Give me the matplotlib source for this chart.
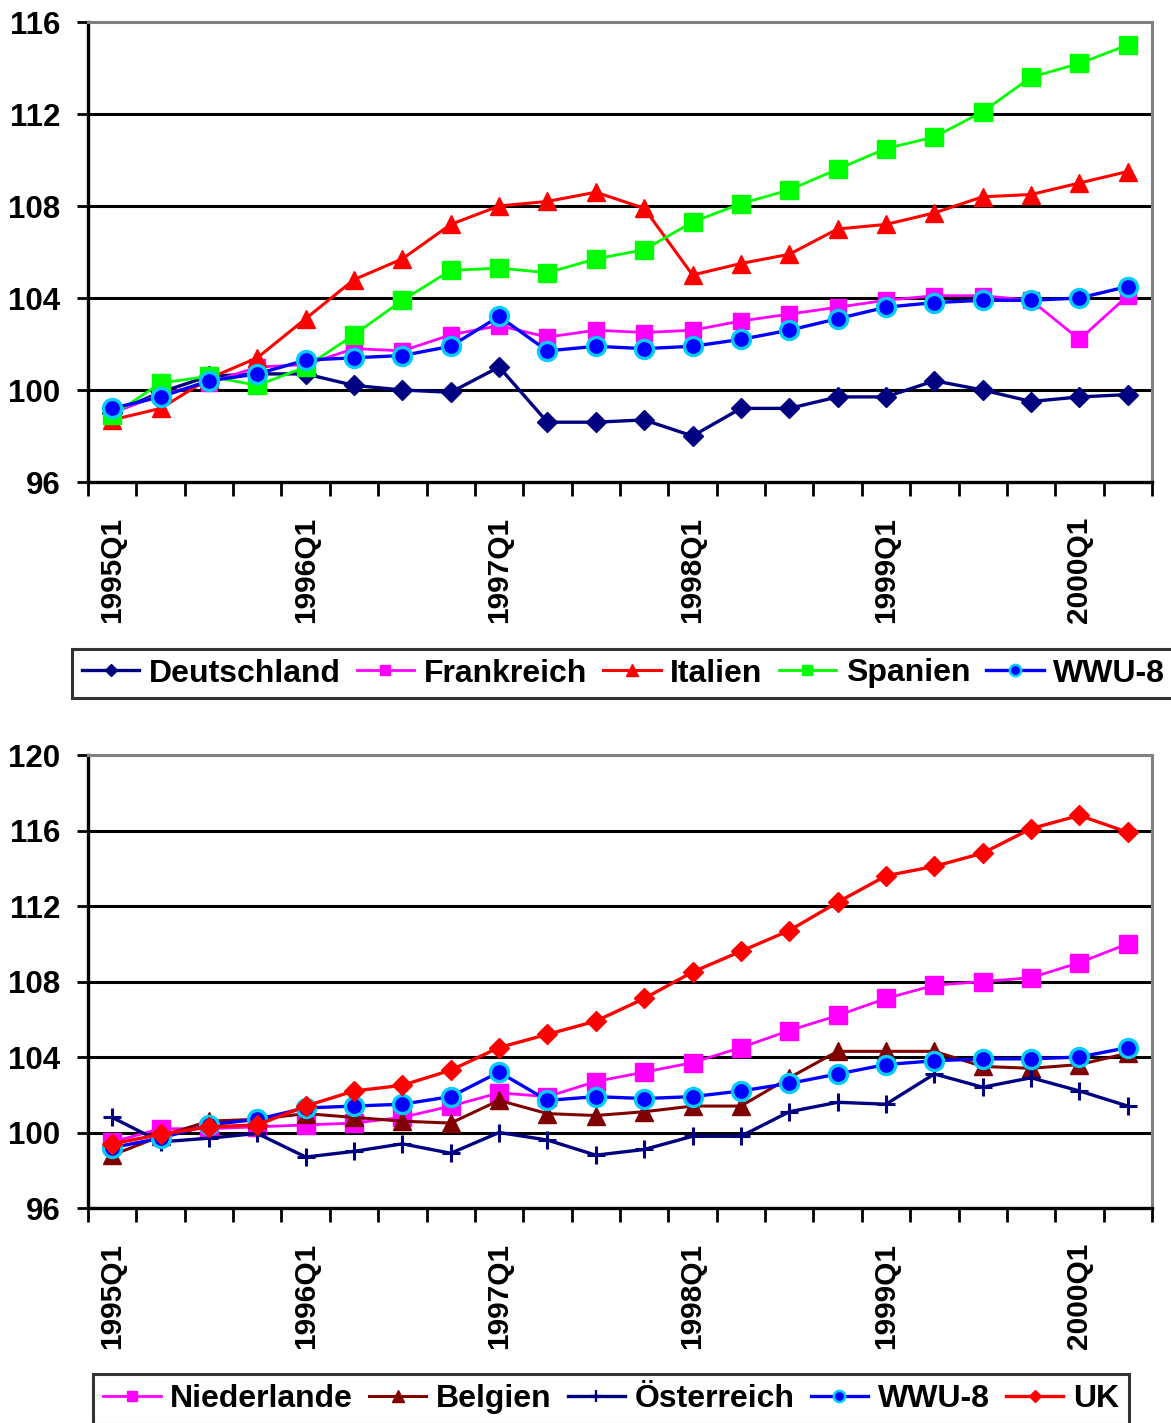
import matplotlib
matplotlib.use("Agg")
import matplotlib.pyplot as plt
from matplotlib.lines import Line2D
import numpy as np

plt.rcParams['font.family'] = ['Liberation Sans', 'DejaVu Sans']
plt.rcParams['font.weight'] = 'bold'

# Quarterly index values, 1995Q1 .. 2000Q2
quarters = [f"{y}Q{q}" for y in range(1995, 2001) for q in range(1, 5)][:22]
tick_years = ["1995Q1", "1996Q1", "1997Q1", "1998Q1", "1999Q1", "2000Q1"]

deutschland = [99.0, 99.9, 100.6, 100.7, 100.7, 100.2, 100.0, 99.9, 101.0, 98.6, 98.6, 98.7,
               98.0, 99.2, 99.2, 99.7, 99.7, 100.4, 100.0, 99.5, 99.7, 99.8]
frankreich = [99.0, 99.8, 100.3, 101.0, 101.1, 101.8, 101.7, 102.4, 102.8, 102.3, 102.6, 102.5,
              102.6, 103.0, 103.3, 103.6, 103.9, 104.1, 104.1, 103.9, 102.2, 104.1]
italien = [98.7, 99.2, 100.5, 101.4, 103.1, 104.8, 105.7, 107.2, 108.0, 108.2, 108.6, 107.9,
           105.0, 105.5, 105.9, 107.0, 107.2, 107.7, 108.4, 108.5, 109.0, 109.5]
spanien = [98.9, 100.3, 100.6, 100.2, 101.0, 102.4, 103.9, 105.2, 105.3, 105.1, 105.7, 106.1,
           107.3, 108.1, 108.7, 109.6, 110.5, 111.0, 112.1, 113.6, 114.2, 115.0]
wwu8 = [99.2, 99.7, 100.4, 100.7, 101.3, 101.4, 101.5, 101.9, 103.2, 101.7, 101.9, 101.8,
        101.9, 102.2, 102.6, 103.1, 103.6, 103.8, 103.9, 103.9, 104.0, 104.5]

niederlande = [99.5, 100.2, 100.2, 100.3, 100.4, 100.5, 100.8, 101.4, 102.1, 101.9, 102.7, 103.2,
               103.7, 104.5, 105.4, 106.2, 107.1, 107.8, 108.0, 108.2, 109.0, 110.0]
belgien = [98.8, 99.8, 100.6, 100.7, 101.0, 100.8, 100.6, 100.5, 101.7, 101.0, 100.9, 101.1,
           101.4, 101.4, 102.9, 104.3, 104.3, 104.3, 103.5, 103.4, 103.6, 104.2]
oesterreich = [100.8, 99.5, 99.7, 99.95, 98.7, 99.0, 99.4, 98.9, 100.0, 99.6, 98.8, 99.1,
               99.8, 99.8, 101.1, 101.6, 101.5, 103.1, 102.4, 102.9, 102.2, 101.4]
uk = [99.4, 99.9, 100.3, 100.4, 101.4, 102.2, 102.5, 103.3, 104.5, 105.2, 105.9, 107.1,
      108.5, 109.6, 110.7, 112.2, 113.6, 114.1, 114.8, 116.1, 116.8, 115.9]

W, H = 1171, 1423
fig = plt.figure(figsize=(W / 100, H / 100), dpi=100)

x = np.arange(len(quarters))

styles = {
    "Deutschland": dict(color="#000080", marker="D", ms=10.5, mfc="#000080", mec="#000080", lw=2.4),
    "Frankreich": dict(color="#FF00FF", marker="s", ms=12, mfc="#FF00FF", mec="#FF00FF", lw=2.0),
    "Italien": dict(color="#FF0000", marker="^", ms=13, mfc="#FF0000", mec="#FF0000", lw=2.2),
    "Spanien": dict(color="#00FF00", marker="s", ms=12.5, mfc="#00FF00", mec="#00FF00", lw=2.0),
    "WWU-8": dict(color="#0000FF", marker="o", ms=13, mfc="#0000FF", mec="#00CCFF", mew=2.4, lw=2.4),
    "Niederlande": dict(color="#FF00FF", marker="s", ms=12.5, mfc="#FF00FF", mec="#FF00FF", lw=2.0),
    "Belgien": dict(color="#800000", marker="^", ms=13, mfc="#800000", mec="#800000", lw=2.2),
    "Österreich": dict(color="#000080", marker="+", ms=13, mew=2.2, lw=2.4),
    "UK": dict(color="#FF0000", marker="D", ms=10.5, mfc="#FF0000", mec="#FF0000", lw=2.4),
}


def setup_axes(ax, ymin, ymax):
    ax.set_xlim(-0.5, len(quarters) - 0.5)
    ax.set_ylim(ymin, ymax)
    yt = np.arange(ymin, ymax + 1, 4)
    ax.set_yticks(yt)
    ax.set_yticklabels([str(v) for v in yt], fontsize=22.5, fontweight='bold')
    ax.tick_params(axis='y', direction='out', length=8, width=2, pad=12)
    # tick marks between categories, labels at the first quarter of each year
    ax.set_xticks(np.arange(-0.5, len(quarters), 1.0))
    ax.set_xticklabels([])
    ax.tick_params(axis='x', which='major', direction='out', length=10, width=2)
    pos = [quarters.index(t) for t in tick_years]
    ax.set_xticks(pos, minor=True)
    ax.set_xticklabels(tick_years, minor=True, rotation=90, fontsize=21.5, fontweight='bold')
    ax.tick_params(axis='x', which='minor', length=0, pad=25)
    for v in yt[1:-1]:
        ax.axhline(v, color='black', lw=2.2, zorder=1)
    ax.spines['left'].set_linewidth(2.4)
    ax.spines['bottom'].set_linewidth(2.4)
    ax.spines['top'].set_color('#808080')
    ax.spines['right'].set_color('#808080')
    ax.spines['top'].set_linewidth(2.2)
    ax.spines['right'].set_linewidth(2.2)


def legend_handle(name):
    s = dict(styles[name])
    s['ms'] = s['ms'] * 0.62
    if 'mew' in s:
        s['mew'] = s['mew'] * 0.75
    return Line2D([0], [0], **s)


def draw_panel(rect, ymin, ymax, series, legend_center):
    ax = fig.add_axes(rect)
    setup_axes(ax, ymin, ymax)
    for name, vals in series:
        ax.plot(x, vals, zorder=3, clip_on=False, **styles[name])
    names = [n for n, _ in series]
    leg = fig.legend([legend_handle(n) for n in names], names, loc='center',
                     bbox_to_anchor=legend_center, ncol=len(names),
                     prop={'weight': 'bold', 'size': 23}, frameon=True, fancybox=False,
                     edgecolor='black', handlelength=1.8, handletextpad=0.3,
                     columnspacing=0.5, borderpad=0.3, borderaxespad=0)
    leg.get_frame().set_linewidth(2.2)
    return ax


def frac_rect(left, top, right, bottom):
    return [left / W, 1 - bottom / H, (right - left) / W, (bottom - top) / H]


draw_panel(frac_rect(88, 22, 1152, 482), 96, 116,
           [("Deutschland", deutschland), ("Frankreich", frankreich), ("Italien", italien),
            ("Spanien", spanien), ("WWU-8", wwu8)],
           (623.5 / W, 1 - 673.5 / H))

draw_panel(frac_rect(88, 755, 1152, 1208), 96, 120,
           [("Niederlande", niederlande), ("Belgien", belgien), ("Österreich", oesterreich),
            ("WWU-8", wwu8), ("UK", uk)],
           (611 / W, 1 - 1399 / H))

fig.savefig("out.png", dpi=100)
